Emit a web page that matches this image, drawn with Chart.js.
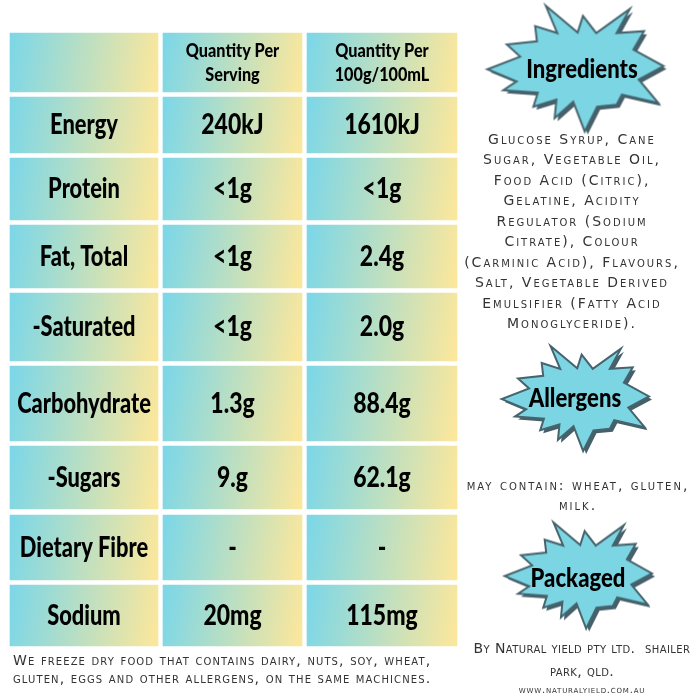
<!DOCTYPE html>
<html>
<head>
<meta charset="utf-8">
<title>Nutrition information</title>
<script src="https://cdn.jsdelivr.net/npm/chart.js@4"></script>
<style>
  html, body { margin: 0; padding: 0; background: #fff; }
  canvas { display: block; }
</style>
</head>
<body>
<canvas id="panel" width="700" height="700"></canvas>
<script>
"use strict";

// table content
let columnHeaders = [["Quantity Per", "Serving"], ["Quantity Per", "100g/100mL"]];
let nutrients = ["Energy", "Protein", "Fat, Total", "-Saturated", "Carbohydrate", "-Sugars", "Dietary Fibre", "Sodium"];
let perServing = ["240kJ", "<1g", "<1g", "<1g", "1.3g", "9.g", "-", "20mg"];
let per100g = ["1610kJ", "<1g", "2.4g", "2.0g", "88.4g", "62.1g", "-", "115mg"];

let ingredientLines = ["Glucose Syrup, Cane", "Sugar, Vegetable Oil,", "Food Acid (Citric),", "Gelatine, Acidity", "Regulator (Sodium", "Citrate), Colour", "(Carminic Acid), Flavours,", "Salt, Vegetable Derived", "Emulsifier (Fatty Acid", "Monoglyceride)."];
let allergenLines = ["may contain: wheat, gluten,", "milk."];
let packagedLines = ["By Natural yield pty ltd.  shailer", "park, qld."];
let website = "www.naturalyield.com.au";
let footnoteLines = ["We freeze dry food that contains dairy, nuts, soy, wheat,", "gluten, eggs and other allergens, on the same machicnes."];
let badgeTitles = ["Ingredients", "Allergens", "Packaged"];

// layout, in scale units (the scales run 0-700 over the canvas)
let columnEdges = [[10, 158], [163, 302], [307, 457]];
let rowEdges = [[33, 92], [97, 153], [158, 220], [225, 288], [293, 361], [366, 441], [446, 509], [515, 580], [585, 646]];
let badgeCentres = [[575, 68], [575, 398], [578, 575]];
let badgeSizes = [[177, 127], [148, 106], [148, 107]];
let titleCentres = [[582, 70], [575, 399], [578, 579]];

// burst outline, -1..1 across the badge
let burstShape = [
  [-0.33, -0.98], [0.03, -0.56], [0.09, -0.82], [0.24, -0.55], [0.62, -0.93], [0.47, -0.55], [0.78, -0.58],
  [0.66, -0.29], [1, -0.03], [0.72, 0.18], [0.94, 0.55], [0.53, 0.42], [0.47, 0.58], [0.25, 0.61],
  [0.11, 1], [-0.02, 0.53], [-0.23, 0.79], [-0.21, 0.5], [-0.47, 0.61], [-0.42, 0.39], [-0.81, 0.35],
  [-0.66, 0.21], [-0.99, 0.02], [-0.62, -0.18], [-0.77, -0.37], [-0.43, -0.42], [-0.45, -0.66], [-0.2, -0.55]
];

let makeBurst = (w, h) => {
  let pad = 8;
  let c = document.createElement("canvas");
  c.width = w + pad * 2;
  c.height = h + pad * 2;
  let g = c.getContext("2d");
  let trace = (dx, dy) => {
    g.beginPath();
    burstShape.forEach((p, i) => {
      let px = c.width / 2 + p[0] * w / 2 + dx;
      let py = c.height / 2 + p[1] * h / 2 + dy;
      if (i === 0) g.moveTo(px, py); else g.lineTo(px, py);
    });
    g.closePath();
  };
  g.lineJoin = "miter";
  g.fillStyle = "#46606a";
  trace(3, 3);
  g.fill();
  trace(0, 0);
  g.fillStyle = "#7bd5e2";
  g.fill();
  g.strokeStyle = "#46646e";
  g.lineWidth = 2;
  g.stroke();
  return c;
};

let rowCentre = edge => (edge[0] + edge[1]) / 2;

// one bar dataset per row, so each row can keep its own height
let cellFill = ctx => {
  let chart = ctx.chart;
  let raw = ctx.raw;
  if (!raw || !chart.chartArea) return "#7ed8e6";
  let left = chart.scales.x.getPixelForValue(raw.x[0]);
  let right = chart.scales.x.getPixelForValue(raw.x[1]);
  let mid = chart.scales.y.getPixelForValue(raw.y);
  let grad = chart.ctx.createLinearGradient(left, mid - 12, right, mid + 12);
  grad.addColorStop(0, "#7dd7e7");
  grad.addColorStop(1, "#fbe79c");
  return grad;
};

let rowDatasets = rowEdges.map(edge => ({
  type: "bar",
  indexAxis: "y",
  grouped: false,
  barThickness: edge[1] - edge[0],
  backgroundColor: cellFill,
  borderWidth: 0,
  data: columnEdges.map(col => ({ x: col, y: rowCentre(edge) }))
}));

let badgeDataset = {
  type: "scatter",
  pointStyle: badgeSizes.map(s => makeBurst(s[0], s[1])),
  pointRadius: 10,
  data: badgeCentres.map(c => ({ x: c[0], y: c[1] }))
};

// everything written on the panel goes through the scales too
let textPlugin = {
  id: "panelText",
  afterDatasetsDraw(chart) {
    let g = chart.ctx;
    let sx = v => chart.scales.x.getPixelForValue(v);
    let sy = v => chart.scales.y.getPixelForValue(v);
    let write = (str, x, y, font, color, align, spacing, squeeze) => {
      g.font = font;
      g.fillStyle = color;
      g.textAlign = align || "center";
      g.textBaseline = "middle";
      g.letterSpacing = spacing || "0px";
      if (squeeze) g.fillText(str, sx(x), sy(y), g.measureText(str).width * squeeze);
      else g.fillText(str, sx(x), sy(y));
    };
    g.save();

    let cellFont = '900 28px Lato, "Liberation Sans", sans-serif';
    let headFont = '900 18px Lato, "Liberation Sans", sans-serif';
    columnHeaders.forEach((lines, c) => {
      let cx = rowCentre(columnEdges[c + 1]);
      write(lines[0], cx, 51, headFont, "#000", "center", "0px", 0.9);
      write(lines[1], cx, 75, headFont, "#000", "center", "0px", 0.9);
    });
    nutrients.forEach((name, i) => {
      let y = rowCentre(rowEdges[i + 1]);
      write(name, rowCentre(columnEdges[0]), y, cellFont, "#000", "center", "0px", 0.78);
      write(perServing[i], rowCentre(columnEdges[1]), y, cellFont, "#000", "center", "0px", 0.82);
      write(per100g[i], rowCentre(columnEdges[2]), y, cellFont, "#000", "center", "0px", 0.82);
    });

    let badgeFont = '900 26px Lato, "Liberation Sans", sans-serif';
    badgeTitles.forEach((t, i) => {
      write(t, titleCentres[i][0], titleCentres[i][1], badgeFont, "#000", "center", "0px", 0.85);
    });

    let capsFont = 'small-caps 14px "DejaVu Sans", sans-serif';
    ingredientLines.forEach((l, i) => {
      write(l, 572, 140 + i * 20.5, capsFont, "#333", "center", "2px");
    });
    allergenLines.forEach((l, i) => {
      write(l, 578, 486 + i * 20, capsFont, "#333", "center", "2px");
    });
    packagedLines.forEach((l, i) => {
      write(l, 582, 649 + i * 23, capsFont, "#333", "center", "0.4px");
    });
    write(website, 582, 690, 'small-caps 10px "DejaVu Sans", sans-serif', "#333", "center", "0.8px");
    footnoteLines.forEach((l, i) => {
      write(l, 13, 661 + i * 18.5, capsFont, "#333", "left", "1.1px");
    });
    g.restore();
  }
};

new Chart(document.querySelector("#panel"), {
  data: { datasets: rowDatasets.concat([badgeDataset]) },
  plugins: [textPlugin],
  options: {
    responsive: false,
    animation: false,
    layout: { padding: 0, autoPadding: false },
    events: [],
    plugins: { legend: { display: false }, tooltip: { enabled: false }, title: { display: false } },
    scales: {
      x: { type: "linear", min: 0, max: 700, offset: false, display: false },
      y: { type: "linear", min: 0, max: 700, offset: false, reverse: true, display: false }
    }
  }
});
</script>
</body>
</html>
